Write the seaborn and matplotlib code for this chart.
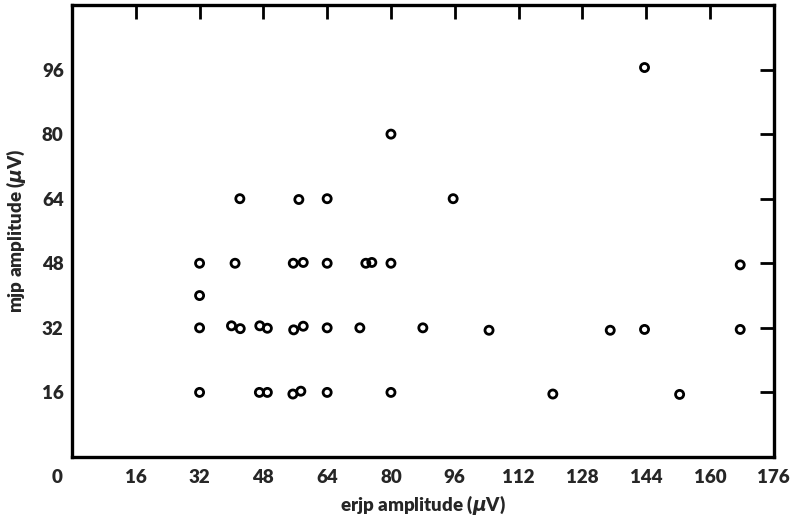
import matplotlib
matplotlib.use('Agg')
import matplotlib.pyplot as plt
import matplotlib.transforms as mtransforms
import pandas as pd
import seaborn as sns

# values
erjp = [32, 32, 32, 32, 40.9, 42.1, 40.0, 42.2, 47.1, 49.0, 47.0, 49.0,
        55.5, 58.0, 56.9, 55.6, 58.0, 55.4, 57.4, 64, 64, 64, 64, 72.2,
        73.7, 75.2, 80, 80, 80, 88, 95.6, 104.6, 120.6, 135, 143.6, 143.6,
        152.4, 167.6, 167.6]
mjp = [48, 40, 32, 16, 48, 64, 32.5, 31.8, 32.5, 31.9, 16, 16,
       48, 48.2, 63.8, 31.5, 32.4, 15.6, 16.3, 64, 48, 32, 16, 32,
       48, 48.2, 80, 48, 16, 32, 64, 31.4, 15.6, 31.4, 31.6, 96.5,
       15.5, 47.6, 31.6]

x_ticks = [0, 16, 32, 48, 64, 80, 96, 112, 128, 144, 160, 176]
y_ticks = [16, 32, 48, 64, 80, 96]

df = pd.DataFrame({'erjp': erjp, 'mjp': mjp})

sns.set_style('white')
plt.rcParams['font.family'] = ['Lato', 'DejaVu Sans']
plt.rcParams['font.weight'] = 'heavy'
plt.rcParams['mathtext.fontset'] = 'dejavusans'

fig = plt.figure(figsize=(7.92, 5.24), dpi=100)
ax = fig.add_axes([0.0909, 0.1279, 0.886, 0.8626])

sns.scatterplot(data=df, x='erjp', y='mjp', ax=ax, s=34, marker='o',
                facecolors='none', edgecolor='black', linewidth=2.0)

ax.set_xlim(0, 176)
ax.set_ylim(0, 112)
ax.set_xticks(x_ticks)
ax.set_yticks(y_ticks)
ax.set_xticklabels([str(t) for t in x_ticks])
ax.set_yticklabels([str(t) for t in y_ticks])

for side in ['left', 'right', 'top', 'bottom']:
    ax.spines[side].set_visible(True)
    ax.spines[side].set_linewidth(2.4)
    ax.spines[side].set_color('black')

ax.tick_params(axis='both', direction='in', length=10, width=2.0,
               color='black', labelsize=13.5, top=True, right=True)
ax.tick_params(axis='x', pad=9)
ax.tick_params(axis='y', pad=6)

# the "0" sits left of the corner, with no tick mark
ax.xaxis.get_major_ticks()[0].tick1line.set_visible(False)
ax.xaxis.get_major_ticks()[0].tick2line.set_visible(False)
lbl0 = ax.get_xticklabels()[0]
lbl0.set_transform(lbl0.get_transform() +
                   mtransforms.ScaledTranslation(-15 / 100, 0, fig.dpi_scale_trans))

for lbl in ax.get_xticklabels() + ax.get_yticklabels():
    lbl.set_fontweight('heavy')

ax.set_xlabel(r'erjp amplitude ($\mu$V)', fontsize=13.5, fontweight='heavy', labelpad=5)
ax.set_ylabel(r'mjp amplitude ($\mu$V)', fontsize=13.5, fontweight='heavy', labelpad=10)

fig.savefig('out.png', dpi=100)
